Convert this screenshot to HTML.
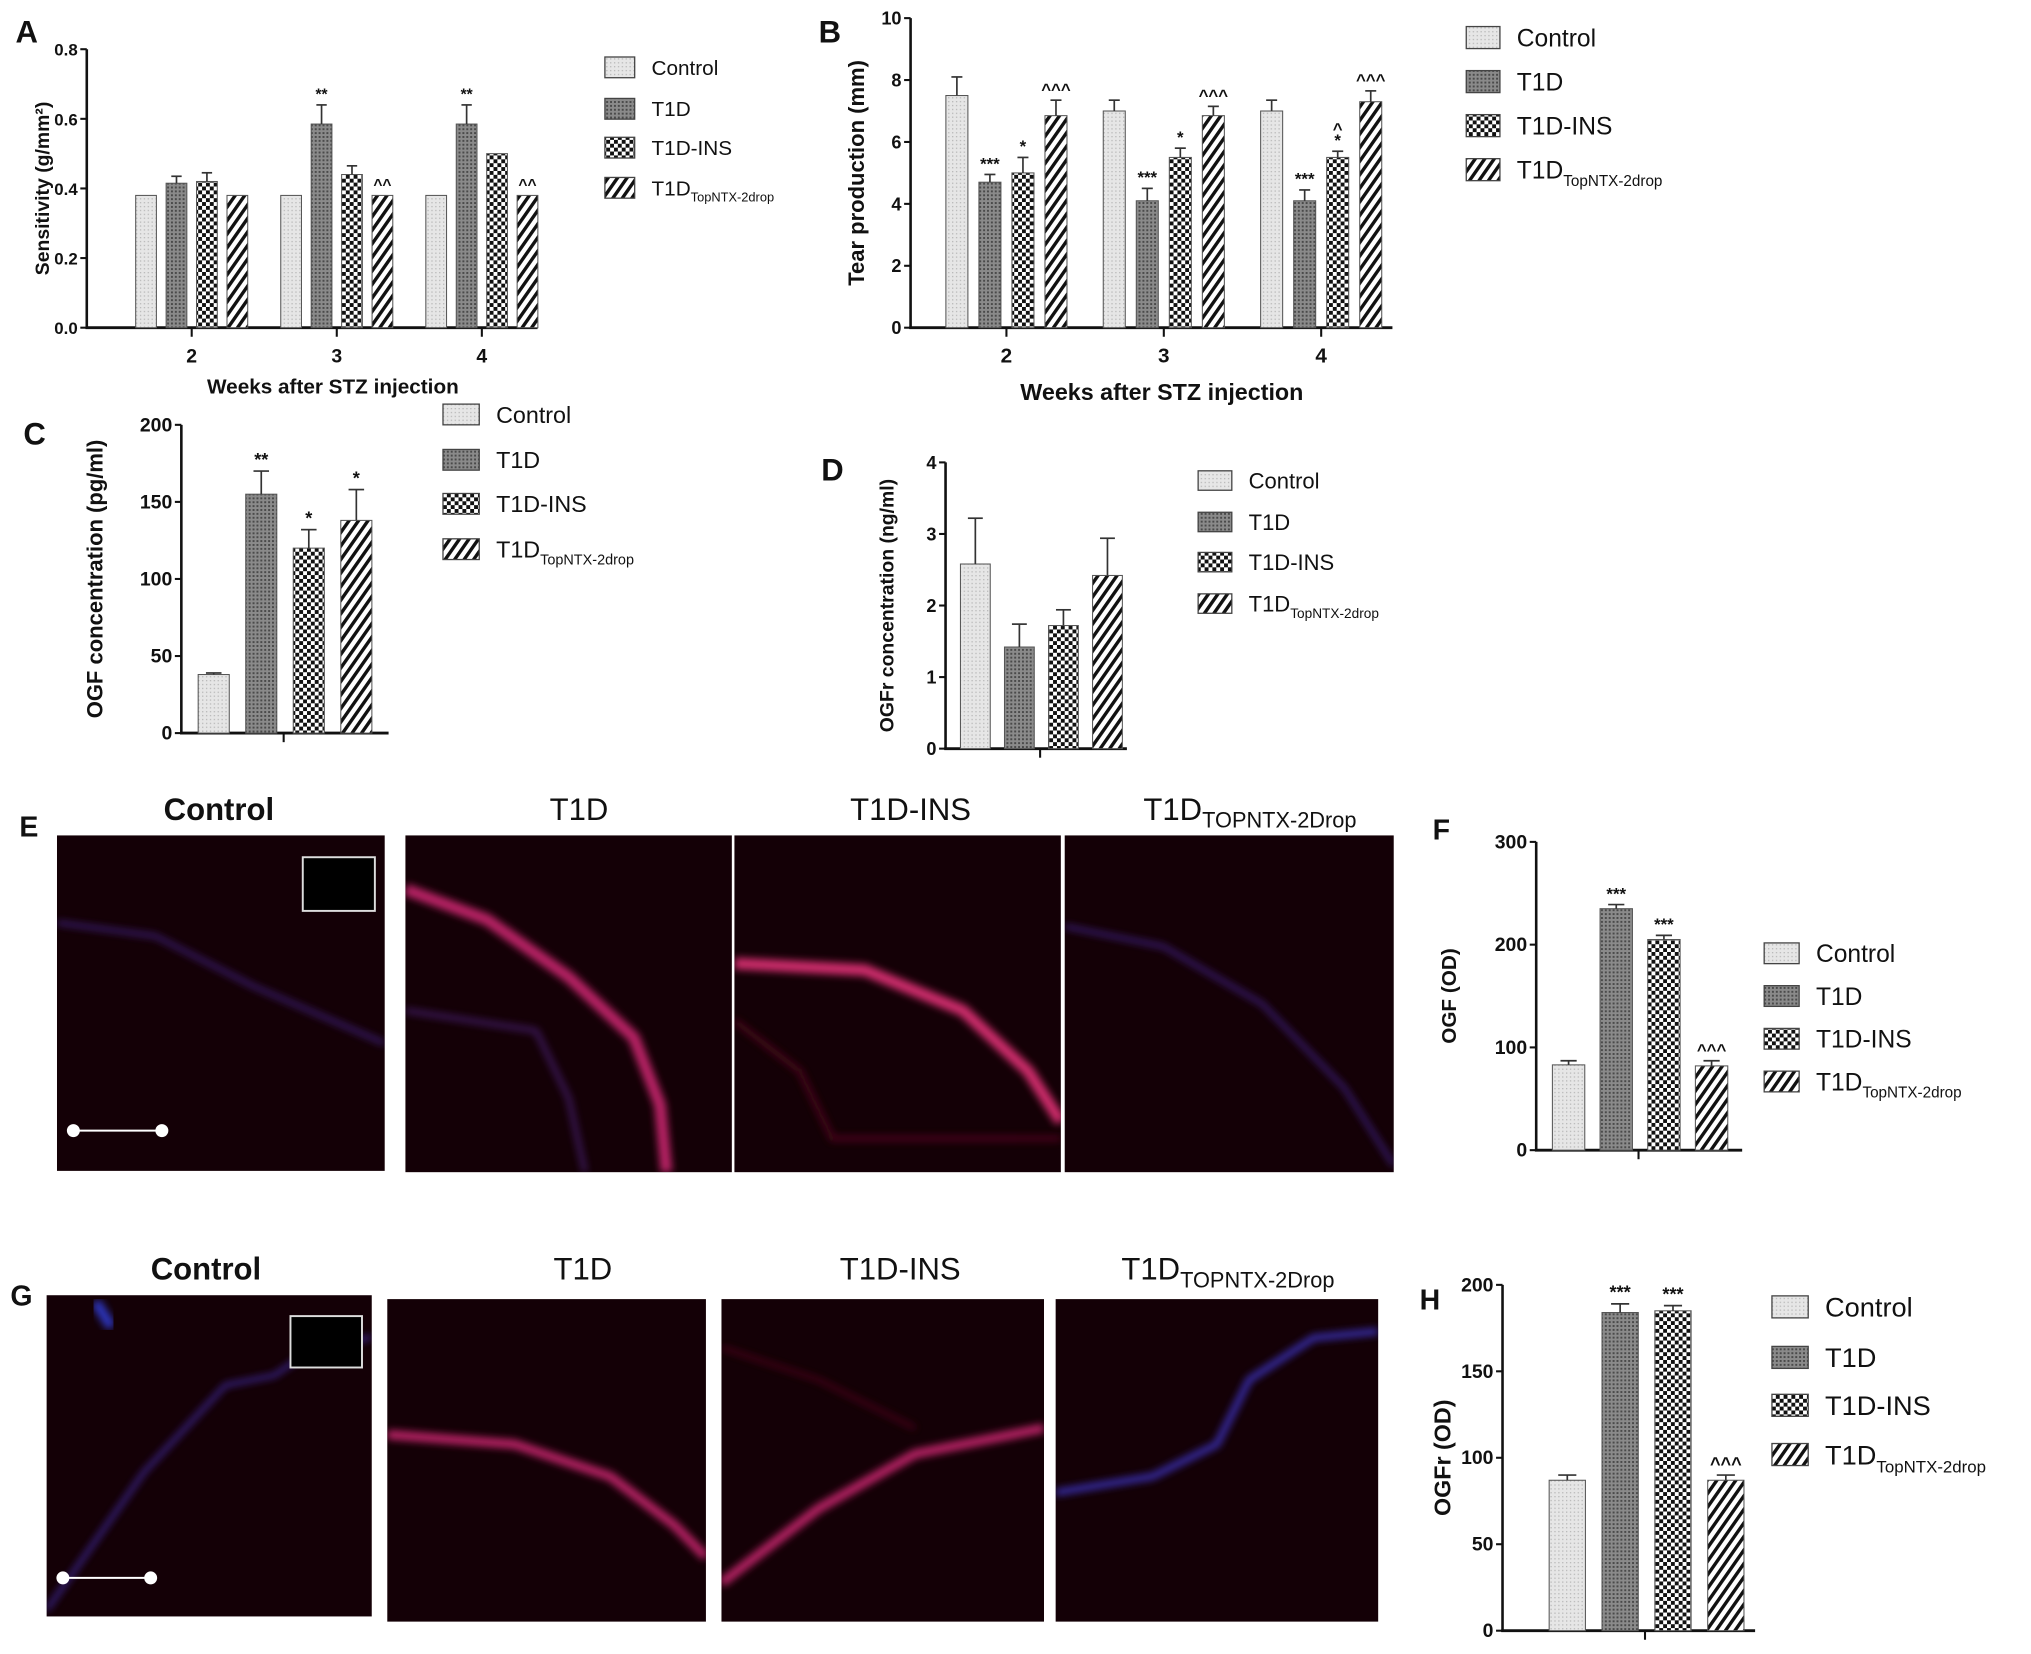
<!DOCTYPE html>
<html><head><meta charset="utf-8"><style>
html,body{margin:0;padding:0;background:#fff}
svg{display:block}
text{font-family:"Liberation Sans",Arial,sans-serif}
</style></head><body>
<svg id="fig" width="2031" height="1654" viewBox="0 0 1568 1277" preserveAspectRatio="none" xmlns="http://www.w3.org/2000/svg">
<defs>
<pattern id="pCtrl" width="3" height="3" patternUnits="userSpaceOnUse"><rect width="3" height="3" fill="#e6e6e6"/><rect width="1" height="1" fill="#b8b8b8"/></pattern>
<pattern id="pT1D" width="3" height="3" patternUnits="userSpaceOnUse"><rect width="3" height="3" fill="#8a8a8a"/><rect width="1.5" height="1.5" fill="#4a4a4a"/></pattern>
<pattern id="pINS" width="6" height="6" patternUnits="userSpaceOnUse"><rect width="6" height="6" fill="#fff"/><rect width="3" height="3" fill="#111"/><rect x="3" y="3" width="3" height="3" fill="#111"/></pattern>
<pattern id="pNTX" width="6" height="6" patternUnits="userSpaceOnUse" patternTransform="rotate(35)"><rect width="6" height="6" fill="#fff"/><rect width="2.6" height="6" fill="#111"/></pattern>
<filter id="blur"><feGaussianBlur stdDeviation="3"/></filter>
</defs>
<g id="charts"></g>
<g id="images"></g>
</svg>
<script>
const NS="http://www.w3.org/2000/svg";
const fig=document.getElementById('charts');
const imgs=document.getElementById('images');
const fills=['url(#pCtrl)','url(#pT1D)','url(#pINS)','url(#pNTX)'];
const seriesNames=['Control','T1D','T1D-INS','T1D'];

// Panel A data
const aGroups=['2','3','4'];
const aControl=[0.38,0.38,0.38];
const aT1D=[0.415,0.585,0.585];
const aINS=[0.42,0.44,0.50];
const aNTX=[0.38,0.38,0.38];
const aErrControl=[0,0,0];
const aErrT1D=[0.02,0.055,0.055];
const aErrINS=[0.025,0.025,0];
const aErrNTX=[0,0,0];
const aMarks=[['','','',''],['','**','','^^'],['','**','','^^']];
const aTicks=['0.0','0.2','0.4','0.6','0.8'];
// Panel B data
const bGroups=['2','3','4'];
const bControl=[7.5,7.0,7.0];
const bT1D=[4.7,4.1,4.1];
const bINS=[5.0,5.5,5.5];
const bNTX=[6.85,6.85,7.3];
const bErrControl=[0.6,0.35,0.35];
const bErrT1D=[0.25,0.4,0.35];
const bErrINS=[0.5,0.3,0.2];
const bErrNTX=[0.5,0.3,0.35];
const bMarks=[['','***','*','^^^'],['','***','*','^^^'],['','***','^\n*','^^^']];
const bTicks=['0','2','4','6','8','10'];
// Panel C
const cValues=[38,155,120,138];
const cErrors=[1,15,12,20];
const cMarks=['','**','*','*'];
const cTicks=['0','50','100','150','200'];
// Panel D
const dValues=[2.58,1.42,1.72,2.42];
const dErrors=[0.64,0.32,0.22,0.52];
const dMarks=['','','',''];
const dTicks=['0','1','2','3','4'];
// Panel F
const fValues=[83,235,205,82];
const fErrors=[4,4,4,5];
const fMarks=['','***','***','^^^'];
const fTicks=['0','100','200','300'];
// Panel H
const hValues=[87,184,185,87];
const hErrors=[3,5,3,3];
const hMarks=['','***','***','^^^'];
const hTicks=['0','50','100','150','200'];

function el(tag,attrs,parent){const e=document.createElementNS(NS,tag);for(const k in attrs)e.setAttribute(k,attrs[k]);(parent||fig).appendChild(e);return e;}
function txt(x,y,s,size,opt,parent){opt=opt||{};const t=el('text',{x:x,y:y,'font-size':size,'text-anchor':opt.anchor||'middle','font-weight':opt.bold?'bold':'normal',fill:'#111'},parent);if(opt.rot)t.setAttribute('transform','rotate(-90 '+x+' '+y+')');t.textContent=s;return t;}

function axes(cfg){
  const g=el('g',{});
  
  
  const n=cfg.ticks.length-1;
  const ys=v=>cfg.y0-(v-cfg.min)/(cfg.max-cfg.min)*(cfg.y0-cfg.y1);
  el('line',{x1:cfg.x0,y1:cfg.y0+1,x2:cfg.x0,y2:cfg.y1,stroke:'#111','stroke-width':2},g);
  el('line',{x1:cfg.x0-1,y1:cfg.y0,x2:cfg.xEnd,y2:cfg.y0,stroke:'#111','stroke-width':2.2},g);
  cfg.ticks.forEach((t,i)=>{const v=cfg.min+i*(cfg.max-cfg.min)/n;const y=ys(v);
    el('line',{x1:cfg.x0-5,y1:y,x2:cfg.x0,y2:y,stroke:'#111','stroke-width':1.6},g);
    const tl=txt(cfg.x0-7,y+5,t,cfg.tickSize,{anchor:'end',bold:true},g);
    });
  const yt=txt(cfg.ylabX,(cfg.y0+cfg.y1)/2,cfg.ylab,cfg.labSize,{bold:true,rot:true},g);
  
  return {g:g,ys:ys};
}
function bar(g,ys,cx,w,v,e,fill,mark,base,ms){
  const y=ys(v);
  const r=el('rect',{x:cx-w/2,y:y,width:w,height:base-y,fill:fill,stroke:'#555','stroke-width':0.8},g);
  
  
  let top=y;
  if(e>0){const ye=ys(v+e);top=ye;
    el('line',{x1:cx,y1:y,x2:cx,y2:ye,stroke:'#333','stroke-width':1.3},g);
    el('line',{x1:cx-w/4,y1:ye,x2:cx+w/4,y2:ye,stroke:'#333','stroke-width':1.3},g);}
  if(mark){const parts=mark.split('\n');parts.forEach((p,i)=>{const t=txt(cx,top-4-(parts.length-1-i)*9,p,ms,{bold:true},g);});}
}
function legend(name,x,rows,sw,sh,size){
  const g=el('g',{});
  
  
  rows.forEach((y,i)=>{
    el('rect',{x:x,y:y-sh/2,width:sw,height:sh,fill:fills[i],stroke:'#444','stroke-width':1},g);
    const t=txt(x+sw+13,y+size*0.36,seriesNames[i],size,{anchor:'start'},g);
    
    if(i===3){const s=el('tspan',{'font-size':size*0.62,dy:size*0.3},t);s.textContent='TopNTX-2drop';}
  });
}
function panelLabel(x,y,s,size){const t=txt(x,y,s,size||24,{bold:true,anchor:'start'});}

function grouped(cfg,groups,vals,errs,marks){
  const a=axes(cfg);
  groups.forEach((gname,gi)=>{
    const gc=cfg.gx0+gi*cfg.gStep;
    el('line',{x1:gc,y1:cfg.y0,x2:gc,y2:cfg.y0+7,stroke:'#111','stroke-width':1.6},a.g);
    const t=txt(gc,cfg.y0+27,gname,cfg.tickSize+2,{bold:true},a.g);
    for(let s=0;s<4;s++){bar(a.g,a.ys,gc+(s-1.5)*cfg.bStep,cfg.bw,vals[s][gi],errs[s][gi],fills[s],marks[gi][s],cfg.y0,cfg.markSize);}
  });
  const xt=txt(cfg.xlabX,cfg.xlabY,'Weeks after STZ injection',cfg.labSize+1,{bold:true},a.g);
  
}
function single(cfg,vals,errs,marks){
  const a=axes(cfg);
  el('line',{x1:cfg.tickX,y1:cfg.y0,x2:cfg.tickX,y2:cfg.y0+7,stroke:'#111','stroke-width':1.6},a.g);
  vals.forEach((v,i)=>bar(a.g,a.ys,cfg.bx0+i*cfg.bStep,cfg.bw,v,errs[i],fills[i],marks[i],cfg.y0,cfg.markSize));
}

// A
panelLabel(12,33,'A');
grouped({name:'panel-a',x0:67,y0:253,y1:38,xEnd:415,min:0,max:0.8,ticks:aTicks,tickSize:13,labSize:15,ylabX:38,ylab:'Sensitivity (g/mm²)',gx0:148,gStep:112,bStep:23.5,bw:16,markSize:12,xlabX:257,xlabY:304},
 aGroups,[aControl,aT1D,aINS,aNTX],[aErrControl,aErrT1D,aErrINS,aErrNTX],aMarks);
legend('legend-a',467,[52,84,114,145],23,16,16);
// B
panelLabel(632,33,'B');
grouped({name:'panel-b',x0:703,y0:253,y1:14,xEnd:1075,min:0,max:10,ticks:bTicks,tickSize:14,labSize:17,ylabX:667,ylab:'Tear production (mm)',gx0:777,gStep:121.5,bStep:25.5,bw:17,markSize:13,xlabX:897,xlabY:309},
 bGroups,[bControl,bT1D,bINS,bNTX],[bErrControl,bErrT1D,bErrINS,bErrNTX],bMarks);
legend('legend-b',1132,[29,63,97,131],26,17,19);
// C
panelLabel(18,343,'C');
single({name:'panel-c',x0:140,y0:566,y1:328,xEnd:300,min:0,max:200,ticks:cTicks,tickSize:15,labSize:17,ylabX:79,ylab:'OGF concentration (pg/ml)',tickX:219,bx0:165,bStep:36.7,bw:24,markSize:14},cValues,cErrors,cMarks);
legend('legend-c',342,[320,355,389,424],28,16,18);
// D
panelLabel(634,371,'D');
single({name:'panel-d',x0:730,y0:578,y1:357,xEnd:870,min:0,max:4,ticks:dTicks,tickSize:14,labSize:15,ylabX:690,ylab:'OGFr concentration (ng/ml)',tickX:803,bx0:753,bStep:34,bw:23,markSize:13},dValues,dErrors,dMarks);
legend('legend-d',925,[371,403,434,466],26,15,17);
// F
panelLabel(1106,648,'F',22);
single({name:'panel-f',x0:1186,y0:888,y1:650,xEnd:1345,min:0,max:300,ticks:fTicks,tickSize:15,labSize:16,ylabX:1124,ylab:'OGF (OD)',tickX:1265,bx0:1211,bStep:36.8,bw:25,markSize:13},fValues,fErrors,fMarks);
legend('legend-f',1362,[736,769,802,835],27,16,19);
// H
panelLabel(1096,1011,'H',22);
single({name:'panel-h',x0:1160,y0:1259,y1:992,xEnd:1355,min:0,max:200,ticks:hTicks,tickSize:15,labSize:18,ylabX:1120,ylab:'OGFr (OD)',tickX:1270,bx0:1210,bStep:40.8,bw:28,markSize:14},hValues,hErrors,hMarks);
legend('legend-h',1368,[1009,1048,1085,1123],28,17,21);

// Micrographs
panelLabel(15,646,'E',22);
panelLabel(8,1008,'G',22);
function micro(name,x,y,w,h,paths,box,scale){
  const g=el('g',{},imgs);
  
  
  const cid='clip-'+name;
  const cp=el('clipPath',{id:cid},g);el('rect',{x:x,y:y,width:w,height:h},cp);
  el('rect',{x:x,y:y,width:w,height:h,fill:'#140006'},g);
  const inner=el('g',{'clip-path':'url(#'+cid+')'},g);
  paths.forEach(p=>{
    const pts=p.pts.map(q=>(x+q[0]*w)+','+(y+q[1]*h)).join(' L');
    el('path',{d:'M'+pts,fill:'none',stroke:p.c,'stroke-width':p.w,opacity:p.o||0.85,filter:'url(#blur)','stroke-linejoin':'round'},inner);
  });
  if(box) el('rect',{x:x+w*0.75,y:y+h*0.065,width:w*0.22,height:h*0.16,fill:'#000',stroke:'#ddd','stroke-width':1.5},g);
  if(scale){el('line',{x1:x+w*0.05,y1:y+h*0.88,x2:x+w*0.32,y2:y+h*0.88,stroke:'#fff','stroke-width':1.5},g);
    el('circle',{cx:x+w*0.05,cy:y+h*0.88,r:5,fill:'#fff'},g);el('circle',{cx:x+w*0.32,cy:y+h*0.88,r:5,fill:'#fff'},g);}
}
function title(x,y,s,bold,size,name){const t=txt(x,y,'',size,{bold:bold},imgs);
  if(s.indexOf('_')>0){const [a,b]=s.split('_');t.textContent=a;const sp=el('tspan',{'font-size':size*0.7,dy:size*0.25},t);sp.textContent=b;}else t.textContent=s;}

micro('image-e-control',44,645,253,259,[{pts:[[0,.26],[.3,.3],[.6,.45],[1,.62]],c:'#4a2a9a',w:3}],true,true);
micro('image-e-t1d',313,645,252,260,[{pts:[[0,.16],[.25,.25],[.5,.42],[.7,.6],[.78,.8],[.8,1]],c:'#d82a78',w:9},{pts:[[0,.52],[.4,.58],[.5,.78],[.55,1]],c:'#5a2a9a',w:4,o:.6}],false,false);
micro('image-e-ins',567,645,252,260,[{pts:[[0,.38],[.4,.4],[.7,.52],[.9,.7],[1,.85]],c:'#f0347f',w:9},{pts:[[0,.55],[.2,.7],[.3,.9],[1,.9]],c:'#5a0c24',w:4}],false,false);
micro('image-e-ntx',822,645,254,260,[{pts:[[0,.27],[.3,.33],[.6,.5],[.85,.75],[1,.98]],c:'#4a2aa0',w:3}],false,false);
title(169,633,'Control',true,24,'title-e-control');title(447,633,'T1D',false,24,'title-e-t1d');title(703,633,'T1D-INS',false,24,'title-e-ins');title(965,633,'T1D_TOPNTX-2Drop',false,24,'title-e-ntx');

micro('image-g-control',36,1000,251,248,[{pts:[[0,.98],[.3,.55],[.55,.28],[.7,.25],[.8,.18],[1,.13]],c:'#4a30c0',w:3},{pts:[[.15,.02],[.2,.1]],c:'#3040e0',w:8}],true,true);
micro('image-g-t1d',299,1003,246,249,[{pts:[[0,.42],[.4,.45],[.7,.55],[.9,.7],[1,.8]],c:'#d82a78',w:7}],false,false);
micro('image-g-ins',557,1003,249,249,[{pts:[[0,.88],[.3,.65],[.6,.48],[1,.4]],c:'#d82a78',w:7},{pts:[[0,.15],[.3,.25],[.6,.4]],c:'#5a0c24',w:3}],false,false);
micro('image-g-ntx',815,1003,249,249,[{pts:[[0,.6],[.3,.55],[.5,.45],[.6,.25],[.8,.12],[1,.1]],c:'#4038d0',w:5}],false,false);
title(159,988,'Control',true,24,'title-g-control');title(450,988,'T1D',false,24,'title-g-t1d');title(695,988,'T1D-INS',false,24,'title-g-ins');title(948,988,'T1D_TOPNTX-2Drop',false,24,'title-g-ntx');
</script>
</body></html>
